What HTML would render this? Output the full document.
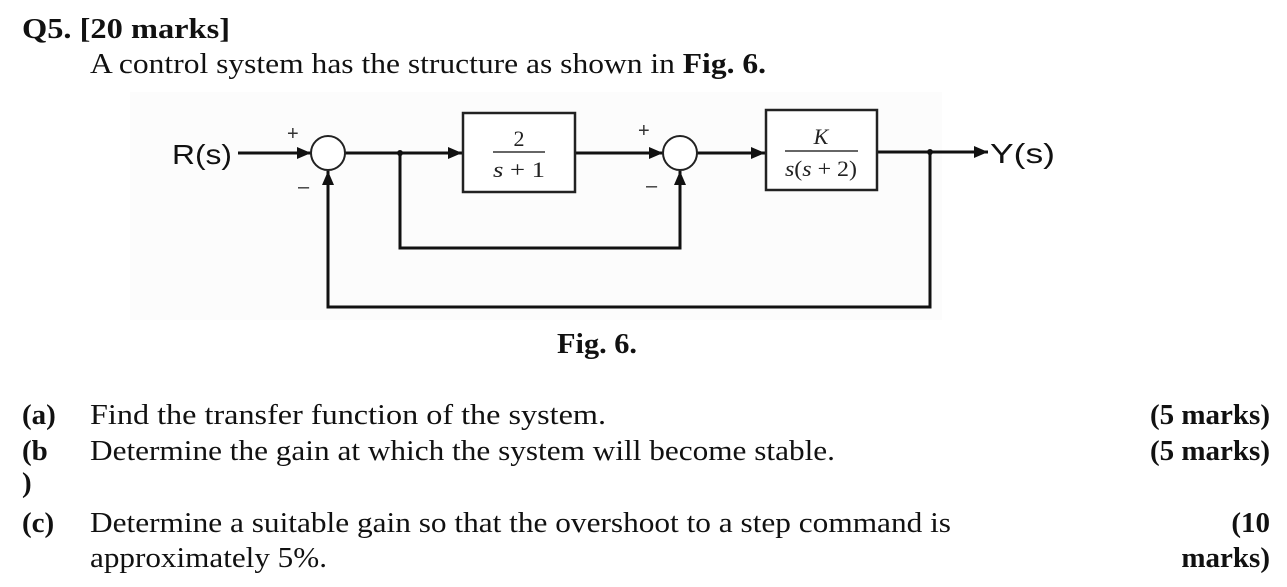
<!DOCTYPE html>
<html><head><meta charset="utf-8"><style>
html,body{margin:0;padding:0;background:#fff;}
svg{display:block;}
.t{font-family:"Liberation Serif",serif;font-size:29px;fill:#111;}
.b{font-weight:bold;}
.s{font-family:"Liberation Sans",sans-serif;font-size:28px;fill:#111;}
.m{font-family:"Liberation Serif",serif;font-size:22px;fill:#222;}
</style></head><body>
<svg width="1287" height="587" viewBox="0 0 1287 587" xmlns="http://www.w3.org/2000/svg">
<defs><marker id="ah" viewBox="0 0 14 12" markerWidth="14" markerHeight="12" refX="14" refY="6" orient="auto" markerUnits="userSpaceOnUse"><path d="M0,0 L14,6 L0,12 z" fill="#111"/></marker></defs>
<text x="22" y="38" class="t b" textLength="208" lengthAdjust="spacingAndGlyphs">Q5.  [20 marks]</text>
<text x="90" y="73" class="t" textLength="676" lengthAdjust="spacingAndGlyphs">A control system has the structure as shown in <tspan class="b">Fig. 6.</tspan></text>
<rect x="130" y="92" width="812" height="228" fill="#fcfcfc"/>
<g stroke="#111" stroke-width="3" fill="none">
<line x1="238" y1="153" x2="311" y2="153" marker-end="url(#ah)"/>
<line x1="345" y1="153" x2="462" y2="153" marker-end="url(#ah)"/>
<line x1="576" y1="153" x2="663" y2="153" marker-end="url(#ah)"/>
<line x1="697" y1="153" x2="765" y2="153" marker-end="url(#ah)"/>
<line x1="878" y1="152" x2="988" y2="152" marker-end="url(#ah)"/>
<polyline points="400,153 400,248 680,248 680,171" marker-end="url(#ah)"/>
<polyline points="930,152 930,307 328,307 328,171" marker-end="url(#ah)"/>
</g>
<circle cx="400" cy="153" r="3" fill="#111"/><circle cx="930" cy="152" r="3" fill="#111"/>
<circle cx="328" cy="153" r="17" fill="#fff" stroke="#222" stroke-width="2"/>
<circle cx="680" cy="153" r="17" fill="#fff" stroke="#222" stroke-width="2"/>
<rect x="463" y="113" width="112" height="79" fill="#fff" stroke="#222" stroke-width="2.5"/>
<rect x="766" y="110" width="111" height="80" fill="#fff" stroke="#222" stroke-width="2.5"/>
<text x="519" y="146" class="m" text-anchor="middle">2</text>
<line x1="493" y1="152" x2="545" y2="152" stroke="#333" stroke-width="1.5"/>
<text x="519" y="177" class="m" text-anchor="middle" textLength="52" lengthAdjust="spacingAndGlyphs"><tspan font-style="italic">s</tspan> + 1</text>
<text x="821" y="144" class="m" text-anchor="middle" font-style="italic">K</text>
<line x1="785" y1="151" x2="858" y2="151" stroke="#333" stroke-width="1.5"/>
<text x="821" y="176" class="m" text-anchor="middle" textLength="72" lengthAdjust="spacingAndGlyphs"><tspan font-style="italic">s</tspan>(<tspan font-style="italic">s</tspan> + 2)</text>
<text x="172" y="164" class="s" textLength="60" lengthAdjust="spacingAndGlyphs">R(s)</text>
<text x="990" y="163" class="s" textLength="65" lengthAdjust="spacingAndGlyphs">Y(s)</text>
<text x="287" y="140" font-family="Liberation Sans" font-size="20" fill="#333">+</text>
<text x="298" y="193" font-family="Liberation Sans" font-size="20" fill="#333">–</text>
<text x="638" y="137" font-family="Liberation Sans" font-size="20" fill="#333">+</text>
<text x="646" y="192" font-family="Liberation Sans" font-size="20" fill="#333">–</text>
<text x="557" y="353" class="t b" textLength="80" lengthAdjust="spacingAndGlyphs">Fig. 6.</text>
<text x="22" y="424" class="t b">(a)</text><text x="90" y="424" class="t" textLength="516" lengthAdjust="spacingAndGlyphs">Find the transfer function of the system.</text>
<text x="1270" y="424" class="t b" text-anchor="end">(5 marks)</text>
<text x="22" y="460" class="t b">(b</text><text x="90" y="460" class="t" textLength="745" lengthAdjust="spacingAndGlyphs">Determine the gain at which the system will become stable.</text>
<text x="1270" y="460" class="t b" text-anchor="end">(5 marks)</text>
<text x="22" y="492" class="t b">)</text>
<text x="22" y="532" class="t b">(c)</text><text x="90" y="532" class="t" textLength="861" lengthAdjust="spacingAndGlyphs">Determine a suitable gain so that the overshoot to a step command is</text>
<text x="1270" y="532" class="t b" text-anchor="end">(10</text>
<text x="90" y="567" class="t" textLength="237" lengthAdjust="spacingAndGlyphs">approximately 5%.</text>
<text x="1270" y="567" class="t b" text-anchor="end">marks)</text>
</svg>
</body></html>
